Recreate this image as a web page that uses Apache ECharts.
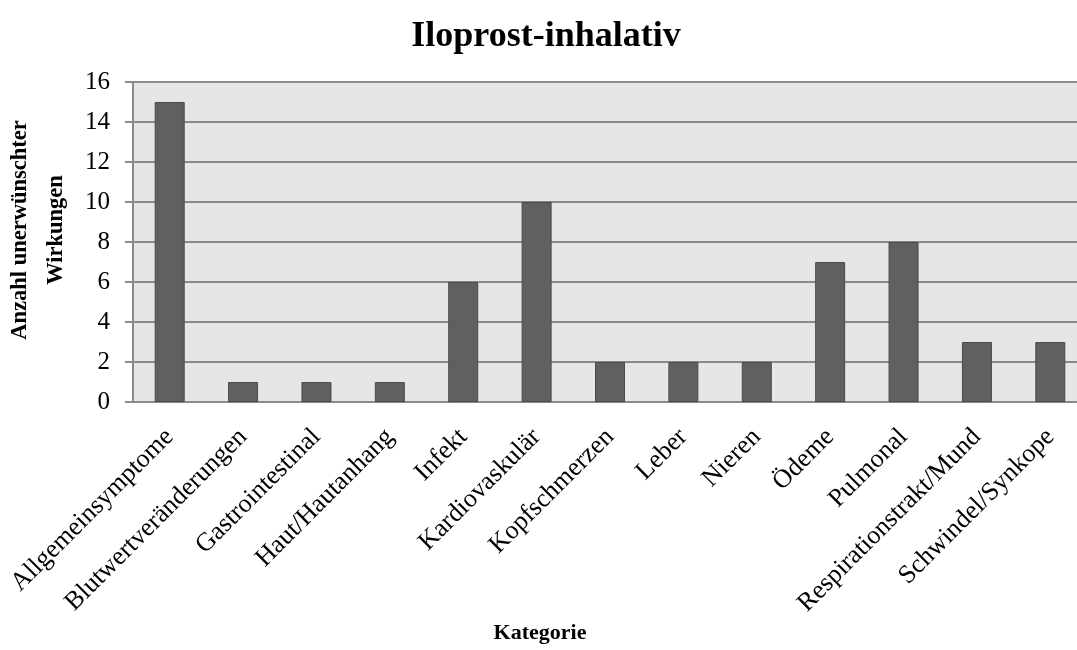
<!DOCTYPE html>
<html>
<head>
<meta charset="utf-8">
<script src="https://cdn.jsdelivr.net/npm/echarts@6/dist/echarts.min.js"></script>
<style>
  html, body { margin: 0; padding: 0; background: #fff; }
  #chart { width: 1077px; height: 650px; }
</style>
</head>
<body>
<div id="chart"></div>
<script>
const categories = ['Allgemeinsymptome', 'Blutwertveränderungen', 'Gastrointestinal', 'Haut/Hautanhang', 'Infekt', 'Kardiovaskulär', 'Kopfschmerzen', 'Leber', 'Nieren', 'Ödeme', 'Pulmonal', 'Respirationstrakt/Mund', 'Schwindel/Synkope']
const counts = [15, 1, 1, 1, 6, 10, 2, 2, 2, 7, 8, 3, 3]

const font = '"Liberation Serif", "Times New Roman", serif'
const chart = echarts.init(document.getElementById('chart'))

chart.setOption({
  animation: false,
  title: {
    text: 'Iloprost-inhalativ',
    left: 541,
    textAlign: 'center',
    top: 14,
    textStyle: { fontFamily: font, fontSize: 36, fontWeight: 'bold', color: '#000' }
  },
  grid: {
    left: 133, top: 82, right: -10, bottom: 248,
    outerBoundsMode: 'none',
    containLabel: false,
    show: true, backgroundColor: '#e6e6e6', borderWidth: 0
  },
  xAxis: {
    type: 'category',
    data: categories,
    name: 'Kategorie',
    nameLocation: 'middle',
    nameGap: 220,
    nameTextStyle: { fontFamily: font, fontSize: 22, fontWeight: 'bold', color: '#000', padding: [0, 140, 0, 0] },
    axisLine: { lineStyle: { color: '#8a8a8a', width: 2 } },
    axisTick: { show: false },
    axisLabel: {
      interval: 0, rotate: 45, margin: 31,
      fontFamily: font, fontSize: 26, color: '#000'
    }
  },
  yAxis: {
    type: 'value',
    min: 0, max: 16, interval: 2,
    name: 'Anzahl unerwünschter\nWirkungen',
    nameLocation: 'middle',
    nameGap: 56,
    nameTextStyle: { fontFamily: font, fontSize: 22.5, fontWeight: 'bold', color: '#000', lineHeight: 36, padding: [0, 0, 0, 24] },
    axisLine: { show: true, lineStyle: { color: '#8a8a8a', width: 2 } },
    axisTick: { show: true, length: 8, lineStyle: { color: '#8a8a8a', width: 2 } },
    axisLabel: { margin: 23, fontFamily: font, fontSize: 25, color: '#000' },
    splitLine: { lineStyle: { color: '#8a8a8a', width: 2 } }
  },
  series: [{
    type: 'bar',
    data: counts,
    barWidth: 30,
    itemStyle: { color: '#606060', borderColor: '#4a4a4a', borderWidth: 1 }
  }]
})
</script>
</body>
</html>
